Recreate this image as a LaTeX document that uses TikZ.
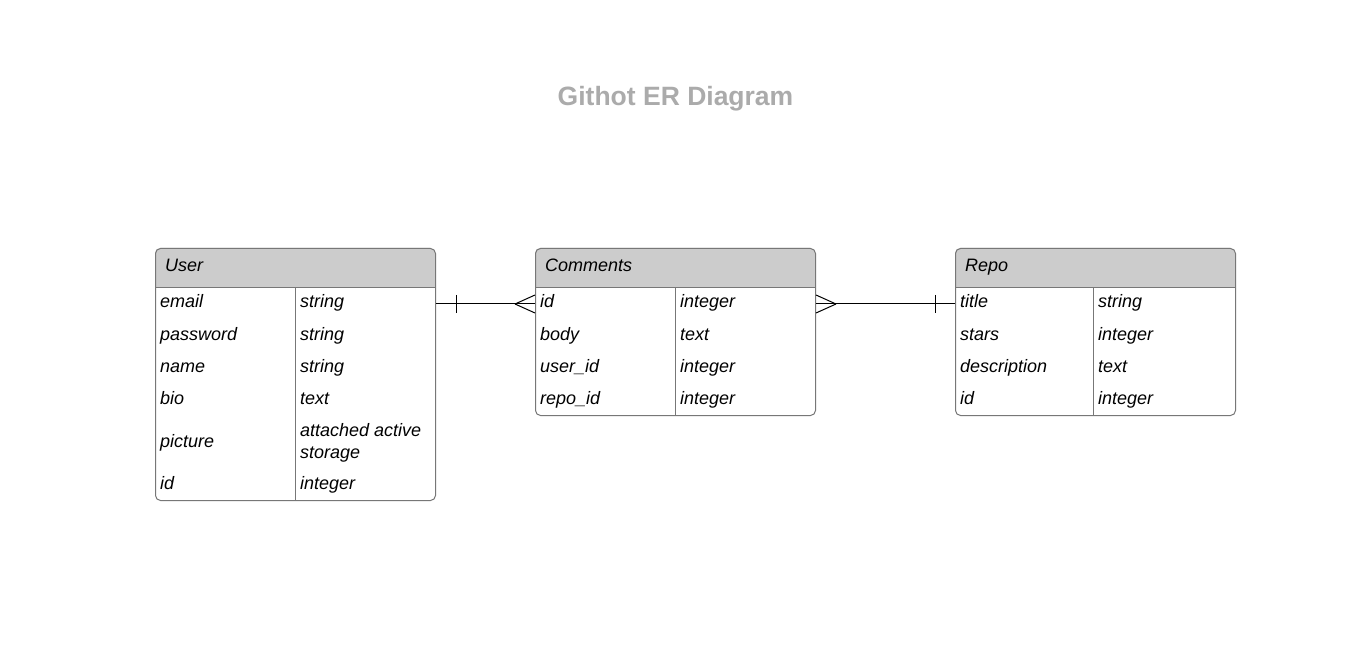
\documentclass[tikz,border=0pt]{standalone}
\usepackage{fontspec}
\setmainfont{Liberation Sans}
\definecolor{hdr}{HTML}{CCCCCC}
\definecolor{bord}{HTML}{777777}
\definecolor{ttl}{HTML}{ABABAB}
\tikzset{
  tbl/.style={draw=bord, line width=1pt, rounded corners=5pt, anchor=north west, inner sep=0pt},
  cell/.style={anchor=base west, inner sep=0pt, font=\fontsize{18}{22}\selectfont\itshape, align=left},
  hcell/.style={anchor=base west, inner sep=0pt, font=\fontsize{18}{22}\selectfont\itshape},
  sep/.style={draw=bord, line width=1pt},
  conn/.style={draw=black, line width=1pt},
}
\begin{document}
\begin{tikzpicture}[x=1pt,y=-1pt]
\useasboundingbox[fill=white] (0,0) rectangle (1357,660);
\node[font=\fontsize{26.5}{30}\selectfont\bfseries, text=ttl, anchor=base, inner sep=0pt] (title) at (675.5,106) {Githot ER Diagram};

% ---------- User ----------
\fill[hdr] (155,288) [rounded corners=5pt] -- (155,248) -- (435,248) [sharp corners] -- (435,288) -- cycle;
\node[tbl, minimum width=280pt, minimum height=252pt] (user) at (155,248) {};
\draw[sep] (155,288) -- (435,288);
\draw[sep] (295,288) -- (295,500);
\node[hcell] (userh) at (165,272) {User};
\node[cell] (u1a) at (160,308) {email};    \node[cell] (u1b) at (300,308) {string};
\node[cell] (u2a) at (160,340) {password}; \node[cell] (u2b) at (300,340) {string};
\node[cell] (u3a) at (160,372) {name};     \node[cell] (u3b) at (300,372) {string};
\node[cell] (u4a) at (160,404) {bio};      \node[cell] (u4b) at (300,404) {text};
\node[cell] (u5a) at (160,447) {picture};  \node[cell] (u5b) at (300,458) {attached active\\storage};
\node[cell] (u6a) at (160,489) {id};       \node[cell] (u6b) at (300,489) {integer};

% ---------- Comments ----------
\fill[hdr] (535,288) [rounded corners=5pt] -- (535,248) -- (815,248) [sharp corners] -- (815,288) -- cycle;
\node[tbl, minimum width=280pt, minimum height=167pt] (comments) at (535,248) {};
\draw[sep] (535,288) -- (815,288);
\draw[sep] (675,288) -- (675,415);
\node[hcell] (commentsh) at (545,272) {Comments};
\node[cell] (c1a) at (540,308) {id};      \node[cell] (c1b) at (680,308) {integer};
\node[cell] (c2a) at (540,340) {body};    \node[cell] (c2b) at (680,340) {text};
\node[cell] (c3a) at (540,372) {user\_id};\node[cell] (c3b) at (680,372) {integer};
\node[cell] (c4a) at (540,404) {repo\_id};\node[cell] (c4b) at (680,404) {integer};

% ---------- Repo ----------
\fill[hdr] (955,288) [rounded corners=5pt] -- (955,248) -- (1235,248) [sharp corners] -- (1235,288) -- cycle;
\node[tbl, minimum width=280pt, minimum height=167pt] (repo) at (955,248) {};
\draw[sep] (955,288) -- (1235,288);
\draw[sep] (1093,288) -- (1093,415);
\node[hcell] (repoh) at (965,272) {Repo};
\node[cell] (r1a) at (960,308) {title};       \node[cell] (r1b) at (1098,308) {string};
\node[cell] (r2a) at (960,340) {stars};       \node[cell] (r2b) at (1098,340) {integer};
\node[cell] (r3a) at (960,372) {description}; \node[cell] (r3b) at (1098,372) {text};
\node[cell] (r4a) at (960,404) {id};          \node[cell] (r4b) at (1098,404) {integer};

% ---------- Connectors ----------
\coordinate (ue) at (user.east |- 0,304);
\coordinate (cw) at (comments.west |- 0,304);
\coordinate (ce) at (comments.east |- 0,304);
\coordinate (rw) at (repo.west |- 0,304);

\draw[conn] (ue) -- (cw);
\draw[conn] ([xshift=20pt]ue) ++(0,-9) -- ++(0,18);
\draw[conn] ([xshift=-20pt]cw) -- ([yshift=-9pt]cw);
\draw[conn] ([xshift=-20pt]cw) -- ([yshift=9pt]cw);

\draw[conn] (ce) -- (rw);
\draw[conn] ([xshift=-20pt]rw) ++(0,-9) -- ++(0,18);
\draw[conn] ([xshift=20pt]ce) -- ([yshift=-9pt]ce);
\draw[conn] ([xshift=20pt]ce) -- ([yshift=9pt]ce);
\end{tikzpicture}
\end{document}
